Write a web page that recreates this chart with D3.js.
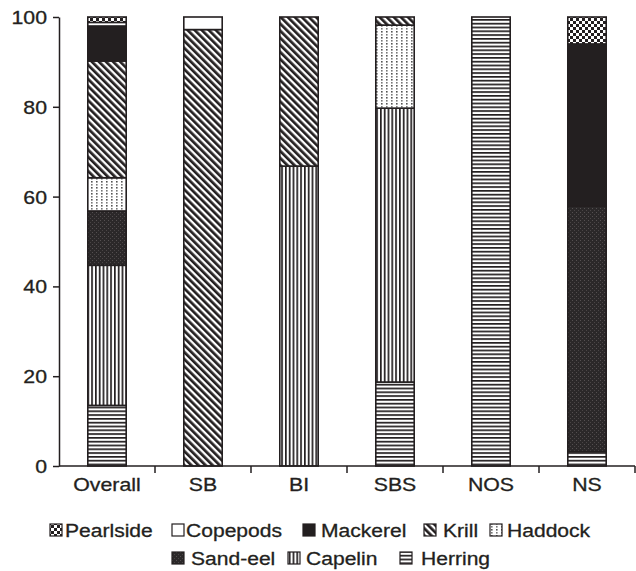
<!DOCTYPE html>
<html>
<head>
<meta charset="utf-8">
<script src="https://cdn.jsdelivr.net/npm/d3@7"></script>
<style>
  body { margin: 0; background: #fff; }
  text { font-family: "Liberation Sans", Arial, Helvetica, sans-serif; fill: #231f20; stroke: #231f20; stroke-width: 0.3px; }
</style>
</head>
<body>
<svg id="chart" width="636" height="571"></svg>
<script>
// Diet composition (%) per area, stacked from the bottom up
const categories = ["Overall", "SB", "BI", "SBS", "NOS", "NS"];
const seriesNames = ["Herring", "Capelin", "Sand-eel", "Haddock", "Krill", "Mackerel", "Copepods", "Pearlside"];
const herring   = [13.5, 0,    0,    18.7, 100, 3.2];
const capelin   = [31.2, 0,    66.8, 61.0, 0,   0];
const sandEel   = [12.1, 0,    0,    0,    0,   54.7];
const haddock   = [7.4,  0,    0,    18.5, 0,   0];
const krill     = [26.0, 97.2, 33.2, 1.8,  0,   0];
const mackerel  = [7.8,  0,    0,    0,    0,   36.1];
const copepods  = [0.8,  2.8,  0,    0,    0,   0];
const pearlside = [1.2,  0,    0,    0,    0,   6.0];
const yTicks = [0, 20, 40, 60, 80, 100];
// legend rows, in reading order
const legendRow1 = ["Pearlside", "Copepods", "Mackerel", "Krill", "Haddock"];
const legendRow2 = ["Sand-eel", "Capelin", "Herring"];

const seriesValues = [herring, capelin, sandEel, haddock, krill, mackerel, copepods, pearlside];
const table = categories.map((c, i) => {
  const row = { category: c };
  seriesNames.forEach((s, j) => { row[s] = seriesValues[j][i]; });
  return row;
});

const ink = "#231f20";
const svg = d3.select("#chart");
const defs = svg.append("defs");

// ---- fill patterns ----
function pat(id, w, h, transform) {
  const p = defs.append("pattern").attr("id", id)
    .attr("patternUnits", "userSpaceOnUse").attr("width", w).attr("height", h);
  if (transform) p.attr("patternTransform", transform);
  return p;
}
// Herring: horizontal rules
let p = pat("p-herring", 8, 3.8);
p.append("rect").attr("width", 8).attr("height", 3.8).attr("fill", "#fff");
p.append("rect").attr("y", 0).attr("width", 8).attr("height", 1.7).attr("fill", ink);
// Capelin: vertical rules
p = pat("p-capelin", 3.8, 8);
p.append("rect").attr("width", 3.8).attr("height", 8).attr("fill", "#fff");
p.append("rect").attr("x", 0).attr("width", 1.7).attr("height", 8).attr("fill", ink);
// Sand-eel: dark stipple
p = pat("p-sandeel", 4, 4);
p.append("rect").attr("width", 4).attr("height", 4).attr("fill", "#2b2829");
p.append("rect").attr("x", 0).attr("y", 0).attr("width", 1).attr("height", 1).attr("fill", "#555051");
p.append("rect").attr("x", 2).attr("y", 2).attr("width", 1).attr("height", 1).attr("fill", "#4a4546");
// Haddock: light dotted grid
p = pat("p-haddock", 5, 6);
p.append("rect").attr("width", 5).attr("height", 6).attr("fill", "#fff");
p.append("rect").attr("x", 1).attr("y", 1).attr("width", 1.6).attr("height", 1.6).attr("fill", "#555");
p.append("rect").attr("x", 1).attr("y", 4).attr("width", 1.6).attr("height", 1.6).attr("fill", "#777");
// Krill: diagonal stripes "\"
p = pat("p-krill", 5, 10, "rotate(-45)");
p.append("rect").attr("width", 5).attr("height", 10).attr("fill", "#fff");
p.append("rect").attr("width", 2.7).attr("height", 10).attr("fill", ink);
// Pearlside: checkerboard
p = pat("p-pearlside", 6, 6);
p.append("rect").attr("width", 6).attr("height", 6).attr("fill", "#fff");
p.append("rect").attr("width", 3).attr("height", 3).attr("fill", ink);
p.append("rect").attr("x", 3).attr("y", 3).attr("width", 3).attr("height", 3).attr("fill", ink);

const fills = {
  "Herring": "url(#p-herring)",
  "Capelin": "url(#p-capelin)",
  "Sand-eel": "url(#p-sandeel)",
  "Haddock": "url(#p-haddock)",
  "Krill": "url(#p-krill)",
  "Mackerel": ink,
  "Copepods": "#fff",
  "Pearlside": "url(#p-pearlside)"
};

// ---- scales ----
const x = d3.scaleBand().domain(categories).range([59, 635]).paddingInner(0.6).paddingOuter(0.3);
const y = d3.scaleLinear().domain([0, 100]).range([466, 17]);

// widen glyphs slightly to the broader face used on the plot
function widen(sel, k) {
  sel.each(function () {
    const w = this.getComputedTextLength();
    d3.select(this).attr("textLength", w * k).attr("lengthAdjust", "spacingAndGlyphs");
  });
}

// ---- stacked bars ----
const stacked = d3.stack().keys(seriesNames)(table);
const gBars = svg.append("g");
stacked.forEach(layer => {
  gBars.append("g").selectAll("rect")
    .data(layer.filter(d => d[1] - d[0] > 0))
    .join("rect")
    .attr("x", d => x(d.data.category))
    .attr("width", x.bandwidth())
    .attr("y", d => y(d[1]))
    .attr("height", d => y(d[0]) - y(d[1]))
    .attr("fill", fills[layer.key])
    .attr("stroke", ink)
    .attr("stroke-width", 1.6);
});

// ---- y axis ----
const yAxis = svg.append("g").attr("transform", "translate(59,0)")
  .call(d3.axisLeft(y).tickValues(yTicks).tickSize(6).tickSizeOuter(0).tickPadding(6));
yAxis.select(".domain").attr("stroke", ink).attr("stroke-width", 1.5);
yAxis.selectAll(".tick line").attr("stroke", ink).attr("stroke-width", 1.5);
yAxis.selectAll(".tick text").attr("font-size", 18.5).attr("font-family", null).attr("fill", ink).attr("dy", "0.35em");
widen(yAxis.selectAll(".tick text"), 1.15);

// ---- x axis: labels centred on bars, ticks on band boundaries ----
const xAxis = svg.append("g").attr("transform", `translate(0,${y(0)})`)
  .call(d3.axisBottom(x).tickSize(0).tickSizeOuter(0).tickPadding(12));
xAxis.select(".domain").attr("stroke", ink).attr("stroke-width", 1.5).attr("d", `M59,0H635`);
xAxis.selectAll(".tick text").attr("font-size", 18.5).attr("font-family", null).attr("fill", ink).attr("dy", "0.71em");
widen(xAxis.selectAll(".tick text"), 1.15);
const gap = x.step() * x.paddingInner() / 2;
xAxis.selectAll(".bound").data(categories).join("line").attr("class", "bound")
  .attr("x1", c => x(c) + x.bandwidth() + gap)
  .attr("x2", c => x(c) + x.bandwidth() + gap)
  .attr("y1", 0).attr("y2", 7)
  .attr("stroke", ink).attr("stroke-width", 1.5);

// ---- legend ----
const legendLayout = [
  { names: legendRow1, icons: [50, 172, 303, 424, 490], texts: [65, 186, 321, 443, 507], iconY: 524, baseY: 537 },
  { names: legendRow2, icons: [172, 288, 400], texts: [191, 306, 421], iconY: 552, baseY: 565 }
];
const gLeg = svg.append("g");
legendLayout.forEach(row => {
  row.names.forEach((name, i) => {
    gLeg.append("rect")
      .attr("x", row.icons[i]).attr("y", row.iconY)
      .attr("width", 12).attr("height", 12)
      .attr("fill", fills[name]).attr("stroke", ink).attr("stroke-width", 1.2);
    const t = gLeg.append("text")
      .attr("x", row.texts[i]).attr("y", row.baseY)
      .attr("font-size", 18).text(name);
    widen(t, 1.17);
  });
});
</script>
</body>
</html>
